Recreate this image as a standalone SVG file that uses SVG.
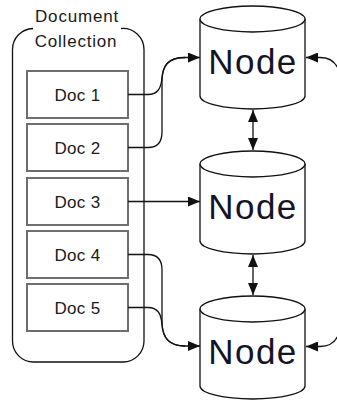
<svg xmlns="http://www.w3.org/2000/svg" width="337" height="400" viewBox="0 0 337 400">
  <style>
    .bg { fill: #ffffff; }
    .frame { fill: none; stroke: #111; stroke-width: 1.3; }
    .doc rect { fill: #ffffff; stroke: #6e6e6e; stroke-width: 2; }
    .doc text { font-family: "Liberation Sans", Arial, sans-serif; font-size: 17px; fill: #1a1a1a; text-anchor: middle; letter-spacing: 0.3px; }
    .title { font-family: "Liberation Sans", Arial, sans-serif; font-size: 17px; fill: #1a1a1a; text-anchor: middle; letter-spacing: 0.8px; }
    .node .body { fill: #ffffff; stroke: #111; stroke-width: 1.3; }
    .node .lid { fill: #ffffff; stroke: #111; stroke-width: 1.3; }
    .node text { font-family: "Liberation Sans", Arial, sans-serif; font-size: 35px; fill: #141428; text-anchor: middle; letter-spacing: 1.5px; }
    .conn { fill: none; stroke: #111; stroke-width: 1.3; }
  </style>
  <defs>
    <marker id="arrow" viewBox="0 0 12 10" refX="12" refY="5" markerWidth="12" markerHeight="10" markerUnits="userSpaceOnUse" orient="auto-start-reverse">
      <path d="M0,0 L12,5 L0,10 z" fill="#111"/>
    </marker>
  </defs>

  <rect class="bg" x="0" y="0" width="337" height="400"/>

  <!-- document collection container -->
  <g id="collection">
    <path class="frame" d="M33,28.5 A21,21 0 0 0 12.5,49.5 V341 A21,21 0 0 0 33.5,362 H123 A21,21 0 0 0 144,341 V49.5 A21,21 0 0 0 121,28.5"/>
    <text class="title" x="77" y="22">Document</text>
    <text class="title" x="76" y="47">Collection</text>
  </g>

  <!-- documents -->
  <g id="doc1" class="doc">
    <rect x="27" y="71" width="101" height="47"/>
    <text x="77.5" y="101">Doc 1</text>
  </g>
  <g id="doc2" class="doc">
    <rect x="27" y="124" width="101" height="47"/>
    <text x="77.5" y="154">Doc 2</text>
  </g>
  <g id="doc3" class="doc">
    <rect x="27" y="178" width="101" height="47"/>
    <text x="77.5" y="208">Doc 3</text>
  </g>
  <g id="doc4" class="doc">
    <rect x="27" y="231" width="101" height="47"/>
    <text x="77.5" y="261">Doc 4</text>
  </g>
  <g id="doc5" class="doc">
    <rect x="27" y="284" width="101" height="47"/>
    <text x="77.5" y="314">Doc 5</text>
  </g>

  <!-- storage nodes -->
  <g id="node1" class="node">
    <path class="body" d="M200,19 V96 A52.5,13 0 0 0 305,96 V19"/>
    <ellipse class="lid" cx="252.5" cy="19" rx="52.5" ry="13"/>
    <text x="253" y="74">Node</text>
  </g>
  <g id="node2" class="node">
    <path class="body" d="M200,164 V241 A52.5,13 0 0 0 305,241 V164"/>
    <ellipse class="lid" cx="252.5" cy="164" rx="52.5" ry="13"/>
    <text x="253" y="219">Node</text>
  </g>
  <g id="node3" class="node">
    <path class="body" d="M200,309 V386 A52.5,13 0 0 0 305,386 V309"/>
    <ellipse class="lid" cx="252.5" cy="309" rx="52.5" ry="13"/>
    <text x="253" y="364">Node</text>
  </g>

  <!-- connectors -->
  <g id="connectors">
    <path class="conn" d="M128,94.5 H148 C158,94.5 161,88 162,78 C163,65 168,57.5 185,57.5 H200" marker-end="url(#arrow)"/>
    <path class="conn" d="M128,147.5 H148 C158,147.5 162,142 162,132 V80 C162.5,66 168,57.5 185,57.5"/>
    <path class="conn" d="M128,201.5 H200" marker-end="url(#arrow)"/>
    <path class="conn" d="M128,254.5 H148 C158,254.5 162,260 162,270 V324 C162.5,337 168,346 185,346 H200" marker-end="url(#arrow)"/>
    <path class="conn" d="M128,307.5 H148 C158,307.5 161,314 162,324 C163,337 168,346 185,346"/>
    <path class="conn" d="M253,110 V150" marker-start="url(#arrow)" marker-end="url(#arrow)"/>
    <path class="conn" d="M253,255 V295" marker-start="url(#arrow)" marker-end="url(#arrow)"/>
    <path class="conn" d="M339,71 C336,62 330,57.5 320,57.5 H306" marker-end="url(#arrow)"/>
    <path class="conn" d="M339,333 C336,342 330,346.5 320,346.5 H306" marker-end="url(#arrow)"/>
  </g>
</svg>
